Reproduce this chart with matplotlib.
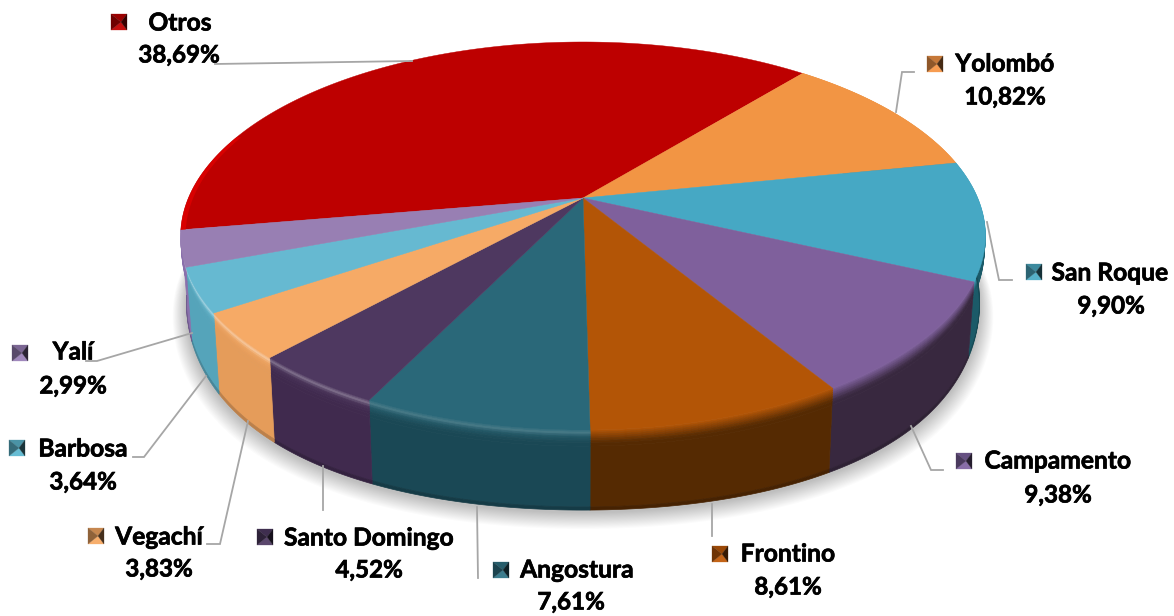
import numpy as np
import matplotlib
matplotlib.use("Agg")
import matplotlib.pyplot as plt
import matplotlib.patheffects as pe
from matplotlib.colors import to_rgb

categories = ["Otros", "Yolombó", "San Roque", "Campamento", "Frontino",
              "Angostura", "Santo Domingo", "Vegachí", "Barbosa", "Yalí"]
values = [38.69, 10.82, 9.90, 9.38, 8.61, 7.61, 4.52, 3.83, 3.64, 2.99]
top_colors = ["#BD0000", "#F29544", "#46A8C4", "#7F609C", "#B35506",
              "#2A6879", "#4E3860", "#F6AA66", "#66B9D1", "#987FB3"]
side_colors = ["#7A0000", "#B86A28", "#1B5A68", "#38283F", "#552A02",
               "#1A4855", "#402A4E", "#E59C5A", "#55A4BA", "#8A70AC"]
key_colors = ["#C00000", "#F79646", "#4BACC6", "#8064A2", "#C05A08",
              "#2F7486", "#4F3A63", "#F7A963", "#5CB8D0", "#9A80B8"]

# label layout (name centre, value centre, key centre)
name_pos = [(180, 23), (1005, 64), (1110, 273), (1058, 461), (788, 554),
            (577, 570), (369, 538), (159, 537), (83, 449), (73, 352)]
value_pos = [(179, 55), (1005, 97), (1111, 306), (1058, 495), (788, 587),
             (571, 602), (369, 570), (159, 569), (83, 482), (73, 386)]
key_pos = [(119, 22), (935, 64), (1034, 272), (964, 461), (720, 554),
           (501, 570), (265, 537), (96, 536), (17, 448), (20, 353)]
leaders = [[(215, 64), (412, 61)],
           [(896, 112), (902, 72), (914, 72)],
           [(987, 222), (999, 280), (1012, 280)],
           [(911, 426), (931, 470), (943, 470)],
           [(712, 504), (712, 536)],
           [(477, 507), (478, 578)],
           [(323, 466), (323, 510)],
           [(248, 421), (220, 544), (207, 544)],
           [(206, 376), (144, 457), (133, 457)],
           [(192, 333), (97, 361), (86, 361)]]

plt.rcParams["font.family"] = ["Lato", "DejaVu Sans"]
fig = plt.figure(figsize=(11.74, 6.16), dpi=100, facecolor="white")
ax = fig.add_axes([0, 0, 1, 1])
ax.set_xlim(0, 1174)
ax.set_ylim(616, 0)
ax.axis("off")

CX, CY, A, B, K = 583.0, 198.0, 394.6, 186.6, 0.196
START = -99.5


def proj(r, th):
    t = np.radians(th)
    u, v = r * np.sin(t), r * np.cos(t)
    w = 1 + K * v
    return CX + A * u / w, CY - B * v / w


def proj_low(th):
    x, y = proj(1.0, th)
    t = np.radians(th)
    d = 86 - 6 * np.cos(t) ** 8 - 20 * np.abs(np.sin(t)) ** 8
    return CX + 0.985 * (x - CX), y + d


def mix(a, b, f):
    a, b = np.array(to_rgb(a)), np.array(to_rgb(b))
    return tuple(a + (b - a) * f)


edges = START + np.concatenate([[0], np.cumsum(values)]) * 360.0 / np.sum(values)

# soft shadow
ths = np.linspace(0, 360, 361)
xl, yl = proj_low(ths)
for i in range(16):
    s = 1 + 0.0022 * (16 - i)
    ax.fill(CX + (xl - CX) * s, 285 + (yl - 285) * s + 9 * (1 - i / 16) + 2,
            color="#000000", alpha=0.016, lw=0, zorder=1)

# side wall: whole bands per slice, blended from the top colour to the side colour.
# The far slice's wall lies behind the top face, so it is left out.
stops = [0.0, 0.025, 0.05, 0.075, 0.10, 0.13, 0.16, 0.2, 0.96, 1.0]
for c, (a0, a1) in enumerate(zip(edges[:-1], edges[1:])):
    if c == 0:
        continue
    th = np.linspace(a0, a1, max(int(a1 - a0) * 2, 4))
    xt, yt = proj(1.0, th)
    xb, yb = proj_low(th)
    mid = np.radians((a0 + a1) / 2)
    glow = np.clip(-np.sin(mid) * 0.9 + 0.15, 0, 1) * 0.40
    for s0, s1 in zip(stops[:-1], stops[1:]):
        sm = (s0 + s1) / 2
        if sm < 0.2:
            col = mix(top_colors[c], side_colors[c], min(sm / 0.16, 1))
            bump = np.exp(-((sm - 0.035) / 0.03) ** 2)
            col = mix(col, "#FFFFFF", glow * bump)
        elif sm < 0.9:
            col = side_colors[c]
        else:
            col = mix(side_colors[c], "#000000", 0.18)
        px = np.r_[xt + (xb - xt) * s0, (xt + (xb - xt) * s1)[::-1]]
        py = np.r_[yt + (yb - yt) * s0, (yt + (yb - yt) * s1)[::-1]]
        ax.fill(px, py, facecolor=col, edgecolor=col, lw=0.5, zorder=2)

# top face and rim
for c, (a0, a1) in enumerate(zip(edges[:-1], edges[1:])):
    th = np.linspace(a0, a1, max(int(a1 - a0) * 2, 4))
    x, y = proj(1.0, th)
    ax.fill(np.r_[CX, x], np.r_[CY, y], facecolor=top_colors[c],
            edgecolor=top_colors[c], lw=0.3, zorder=3)
    if c == 0:
        tr = np.linspace(a0, a0 + 30, 40)
        xo, yo = proj(1.0, tr)
        xi, yi = proj(0.988, tr)
        ax.fill(np.r_[xi, xo[::-1]], np.r_[yi, yo[::-1]], color="#D80000",
                lw=0, zorder=3.5)

# leader lines
for pts in leaders:
    xs, ys = zip(*pts)
    ax.plot(xs, ys, color="#A6A6A6", lw=1.3, solid_joinstyle="miter", zorder=4)

# legend keys and labels
H = 8
heavy = [pe.withStroke(linewidth=0.5, foreground="black")]
for c, name in enumerate(categories):
    kx, ky = key_pos[c]
    base = key_colors[c]
    tri = {"t": ((kx - H, ky - H), (kx + H, ky - H)),
           "b": ((kx - H, ky + H), (kx + H, ky + H)),
           "l": ((kx - H, ky - H), (kx - H, ky + H)),
           "r": ((kx + H, ky - H), (kx + H, ky + H))}
    shade = {"t": mix(base, "#000000", 0.2), "l": mix(base, "#000000", 0.42),
             "r": mix(base, "#000000", 0.72), "b": mix(base, "#FFFFFF", 0.06)}
    for side, (p, q) in tri.items():
        ax.fill([p[0], q[0], kx + 2], [p[1], q[1], ky],
                color=shade[side], lw=0.2, zorder=5)
    ax.text(*name_pos[c], name, ha="center", va="center", fontsize=17.7,
            fontweight="bold", color="black", zorder=6, path_effects=heavy)
    ax.text(*value_pos[c], f"{values[c]:.2f}%".replace(".", ","), ha="center",
            va="center", fontsize=17.4, fontweight="bold", color="black",
            zorder=6, path_effects=heavy)

fig.savefig("out.png", dpi=100, facecolor="white")
